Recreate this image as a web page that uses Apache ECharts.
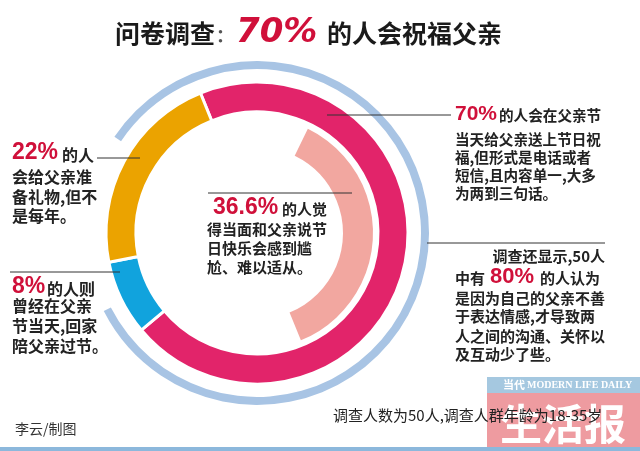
<!DOCTYPE html>
<html><head><meta charset="utf-8">
<script src="https://cdn.jsdelivr.net/npm/echarts@6/dist/echarts.min.js"></script>
<style>html,body{margin:0;padding:0;background:#fff}#c{width:640px;height:451px}</style>
</head><body><div id="c"></div>
<script>
// ---- data ----
const categories = ['节日祝福', '回家陪父亲过节', '准备礼物'];
const shares = [70, 8, 22];
const awkwardLabel = '觉得尴尬';
const awkwardShare = 36.6;
const awkwardRest = 63.4;
const titlePct = '70%';

// ---- styles ----
const RED = '#D0103A';
const CJK = '"Noto Sans CJK SC", "Noto Sans", sans-serif';
const NUM = '"Liberation Sans", Arial, sans-serif';
const segColors = ['#E2246A', '#11A3DD', '#EBA300'];
const BODY_W = 'bold';

function txt(x, y, text, size, opts) {
  opts = opts || {};
  return {
    type: 'text', x: x, y: y, z: opts.z || 10, silent: true,
    style: {
      text: text, fontSize: size,
      fontFamily: opts.family || CJK,
      fontWeight: opts.weight || BODY_W,
      fontStyle: opts.italic ? 'italic' : 'normal',
      fill: opts.color || '#222',
      align: opts.align || 'left', verticalAlign: 'middle'
    }
  };
}
function line(x1, y1, x2, y2) {
  return { type: 'line', silent: true, z: 9, shape: { x1: x1, y1: y1, x2: x2, y2: y2 },
    style: { stroke: '#333', lineWidth: 1 } };
}

const graphics = [
  // title
  txt(115, 33, '问卷调查', 25, { weight: 'bold', color: '#1a1a1a' }),
  txt(216, 35, '：', 18, { weight: 'bold', color: '#555' }),
  txt(236, 33, titlePct, 34, { weight: 'bold', italic: true, family: '"DejaVu Sans", sans-serif', color: RED }),
  txt(327, 33, '的人会祝福父亲', 25, { weight: 'bold', color: '#1a1a1a' }),

  // 22% block
  txt(12, 153, shares[2] + '%', 23, { weight: 'bold', family: NUM, color: RED }),
  txt(62, 155, '的人', 16),
  line(97, 158, 140, 158),
  txt(12, 177, '会给父亲准', 16),
  txt(12, 197, '备礼物,但不', 16),
  txt(12, 216, '是每年。', 16),

  // 8% block
  line(10, 272, 120, 272),
  txt(12, 287, shares[1] + '%', 23, { weight: 'bold', family: NUM, color: RED }),
  txt(47, 289, '的人则', 16),
  txt(12, 306, '曾经在父亲', 16),
  txt(12, 326, '节当天,回家', 16),
  txt(12, 346, '陪父亲过节。', 16),

  // 70% block
  line(327, 115, 451, 115),
  txt(455, 114, shares[0] + '%', 21, { weight: 'bold', family: NUM, color: RED }),
  txt(499, 115, '的人会在父亲节', 14.6),
  txt(455, 139, '当天给父亲送上节日祝', 14.6),
  txt(455, 157, '福,但形式是电话或者', 14.6),
  txt(455, 175, '短信,且内容单一,大多', 14.6),
  txt(455, 193, '为两到三句话。', 14.6),

  // 80% block
  line(427, 243, 605, 243),
  txt(605, 256, '调查还显示,50人', 15, { align: 'right' }),
  txt(455, 278, '中有', 15),
  txt(490, 277, '80%', 22, { weight: 'bold', family: NUM, color: RED }),
  txt(540, 278, '的人认为', 15),
  txt(455, 298, '是因为自己的父亲不善', 15),
  txt(455, 316, '于表达情感,才导致两', 15),
  txt(455, 336, '人之间的沟通、关怀以', 15),
  txt(455, 354, '及互动少了些。', 15),

  // 36.6% block
  line(208, 193, 352, 193),
  txt(213, 208, awkwardShare + '%', 23, { weight: 'bold', family: NUM, color: RED }),
  txt(282, 209, '的人觉', 15),
  txt(207, 229, '得当面和父亲说节', 15),
  txt(207, 248, '日快乐会感到尴', 15),
  txt(207, 267, '尬、难以适从。', 15),

  // footer
  txt(15, 429, '李云/制图', 14, { color: '#333', weight: 'normal' }),
  { type: 'rect', silent: true, z: 5, shape: { x: 487, y: 377, width: 153, height: 16 }, style: { fill: '#A5C8E0' } },
  { type: 'rect', silent: true, z: 5, shape: { x: 487, y: 393, width: 153, height: 55 }, style: { fill: '#EE9BA0' } },
  txt(503, 385, '当代', 11, { weight: 'bold', color: '#fff', z: 6 }),
  txt(527, 385, 'MODERN LIFE DAILY', 10, { weight: 'bold', family: '"Liberation Serif", serif', color: '#fff', z: 6 }),
  txt(500, 424, '生活报', 42, { weight: 'bold', color: '#fff', z: 6 }),
  txt(333, 415, '调查人数为50人,调查人群年龄为18-35岁', 15, { color: '#222', weight: 'normal', z: 11 }),
  { type: 'rect', silent: true, z: 5, shape: { x: 0, y: 447, width: 640, height: 4 }, style: { fill: '#8CB8DC' } }
];

const chart = echarts.init(document.getElementById('c'), null, { renderer: 'canvas' });
chart.setOption({
  backgroundColor: '#ffffff',
  animation: false,
  graphic: graphics,
  series: [
    {
      type: 'pie', name: '外环', center: [257, 233], radius: [164, 172],
      startAngle: 146, endAngle: -153, clockwise: true, silent: true,
      label: { show: false }, labelLine: { show: false },
      data: [{ value: 1, name: '外环', itemStyle: { color: '#A8C4E4' } }]
    },
    {
      type: 'pie', name: '父亲节', center: [257, 233], radius: [121, 151],
      startAngle: 112, clockwise: true, silent: true,
      label: { show: false }, labelLine: { show: false },
      itemStyle: { borderColor: '#fff', borderWidth: 3 },
      data: categories.map((c, i) => ({ name: c, value: shares[i], itemStyle: { color: segColors[i] } }))
    },
    {
      type: 'pie', name: awkwardLabel, center: [257, 233], radius: [86, 116],
      startAngle: 64, clockwise: true, silent: true,
      label: { show: false }, labelLine: { show: false },
      data: [
        { name: awkwardLabel, value: awkwardShare, itemStyle: { color: '#F2A7A0' } },
        { name: '其他', value: awkwardRest, itemStyle: { color: 'rgba(0,0,0,0)' } }
      ]
    }
  ]
});
</script>
</body></html>
